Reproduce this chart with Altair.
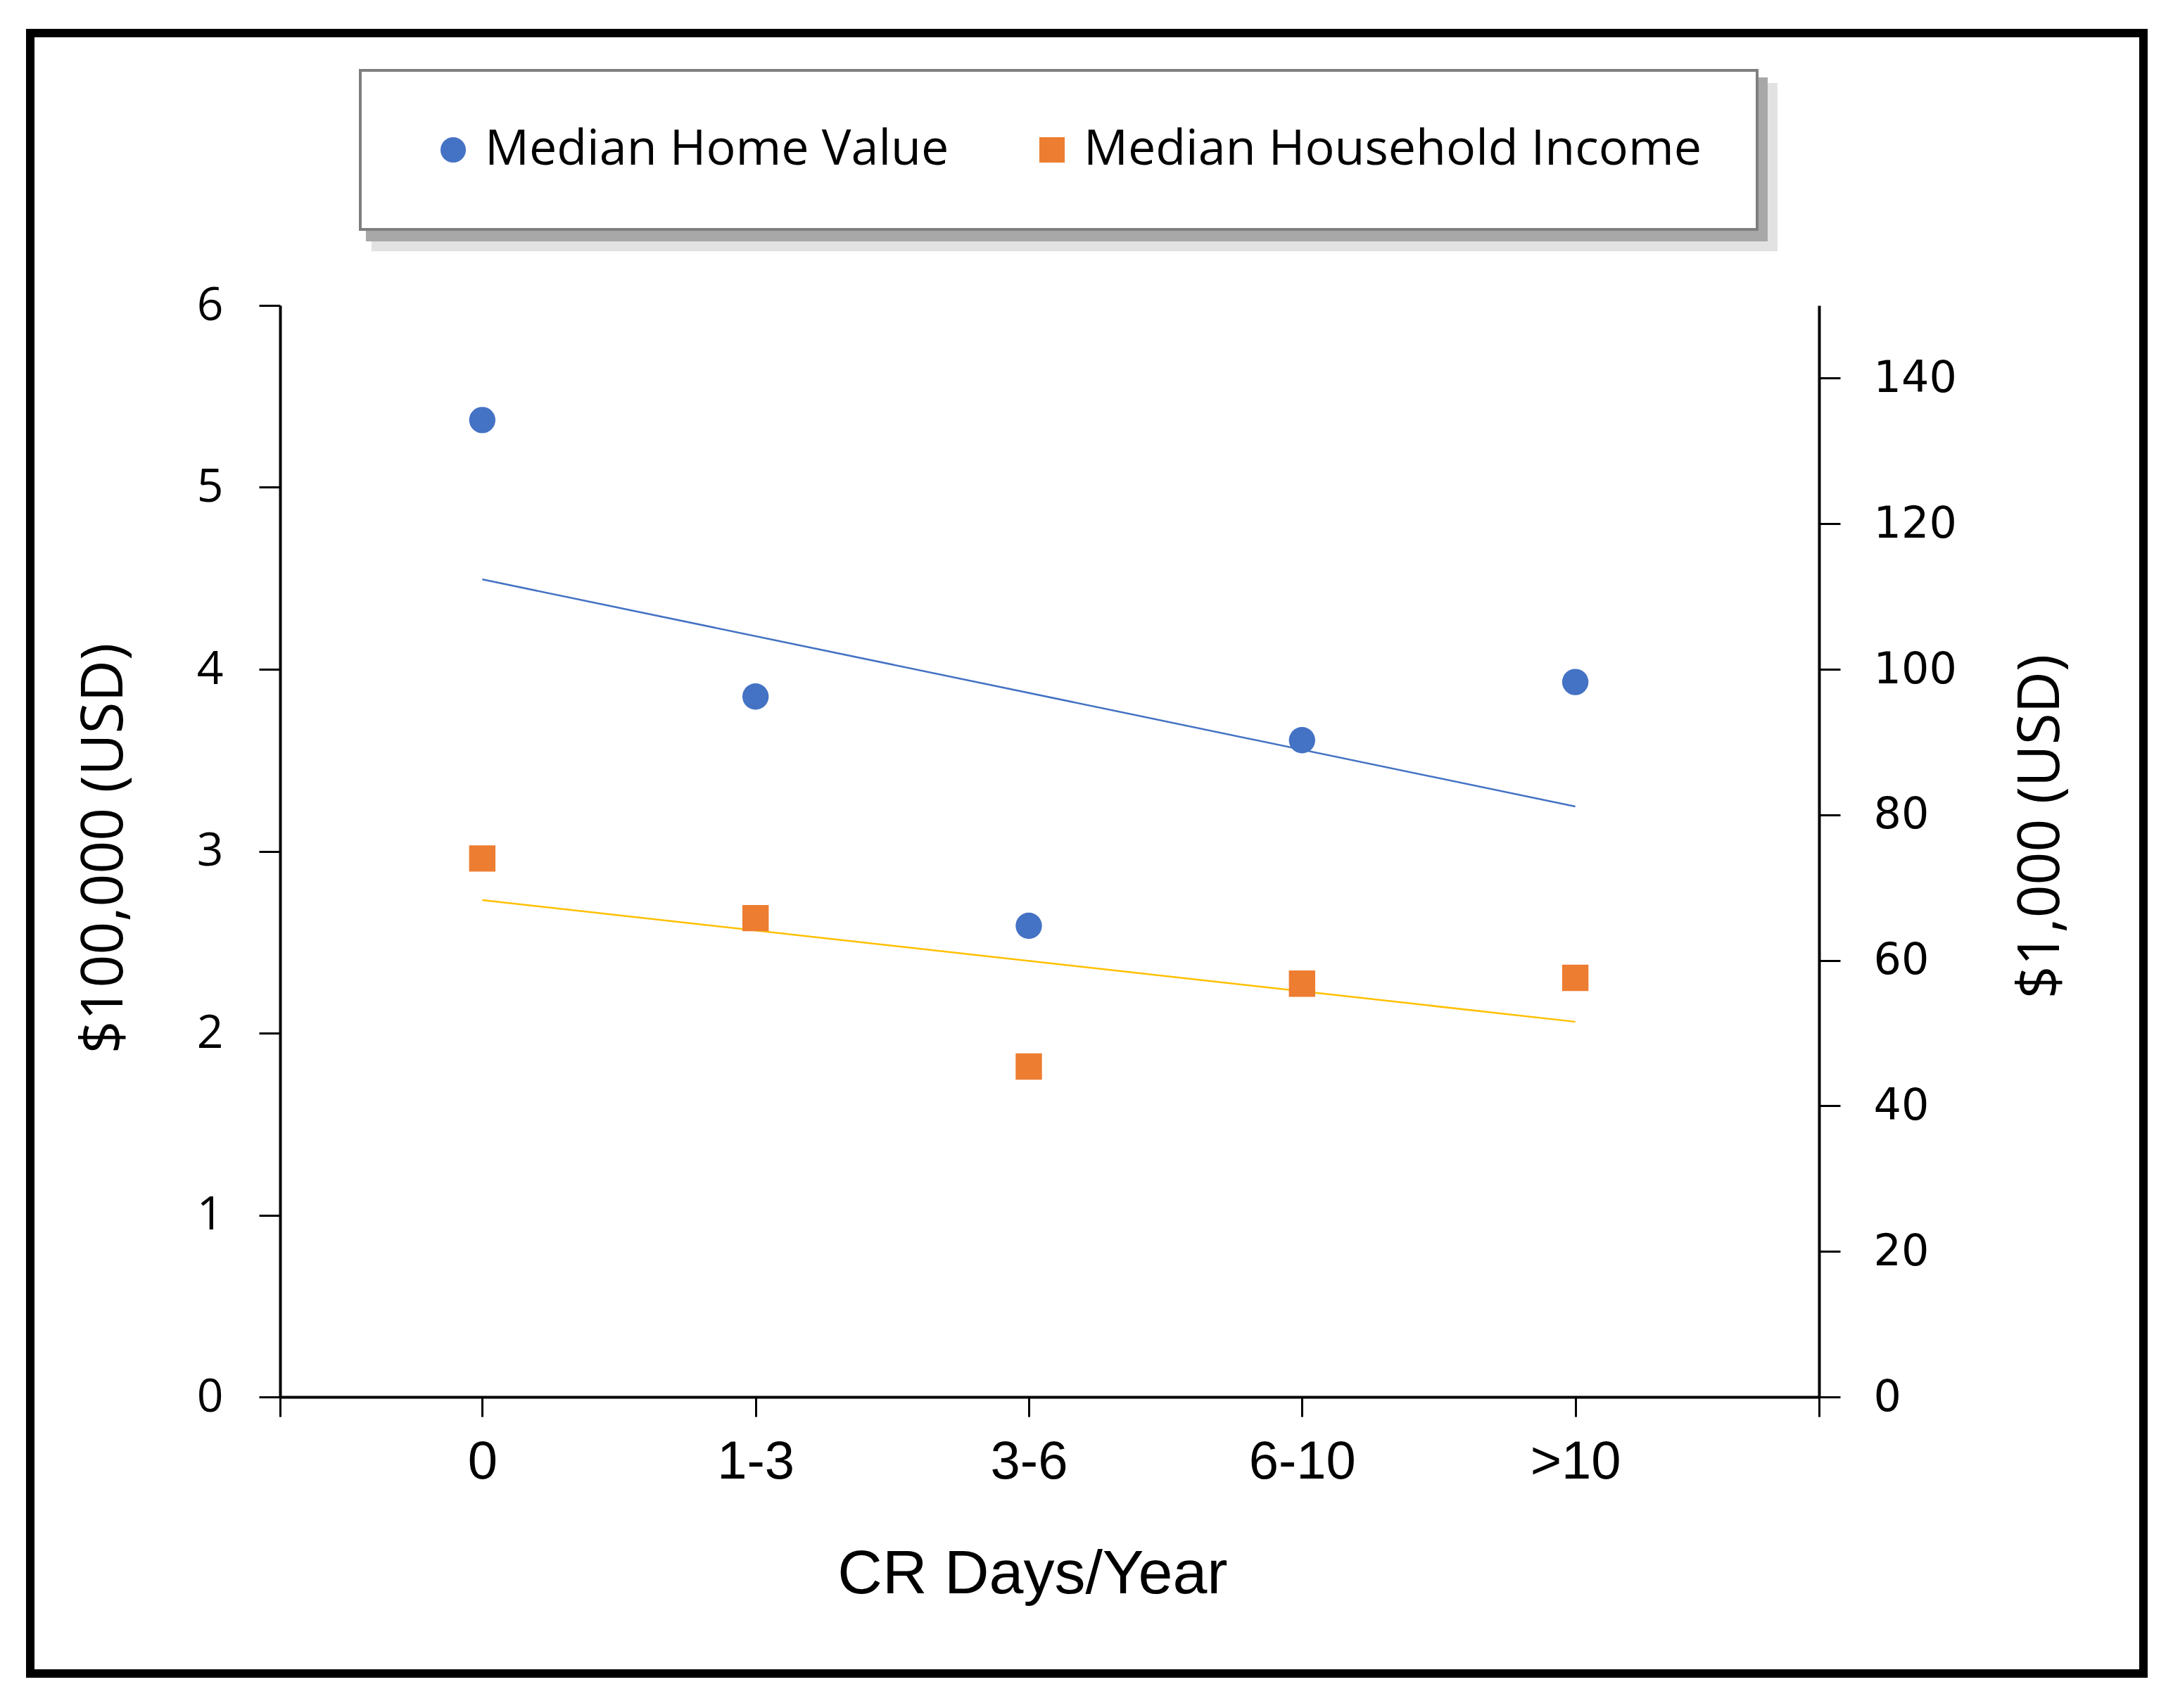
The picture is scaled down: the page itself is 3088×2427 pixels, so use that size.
import json
import altair as alt
import pandas as pd

# ---------------- data ----------------
categories = ["0", "1-3", "3-6", "6-10", ">10"]
positions = [0, 1, 2, 3, 4]
home_value = [5.37, 3.85, 2.59, 3.61, 3.93]          # x $100,000
household_income = [74.0, 65.8, 45.4, 56.8, 57.6]    # x $1,000
series_names = ["Median Home Value", "Median Household Income"]
series_colors = ["#4472C4", "#ED7D31"]
trend_colors = ["#4472C4", "#FFC000"]
left_ticks = [0, 1, 2, 3, 4, 5, 6]
right_ticks = [0, 20, 40, 60, 80, 100, 120, 140]
x_domain = [-0.74, 4.892]
x_tick_values = [-0.74, 0, 1, 2, 3, 4, 4.892]

df = pd.DataFrame({"idx": positions, "cat": categories,
                   "home": home_value, "income": household_income})
deco = pd.DataFrame({"k": [0]})

W, H = 2187, 1551
FONT = "Open Sans"
BLACK = "#000000"
LW = 4

label_expr = ("(datum.value % 1 == 0 && datum.value >= 0 && datum.value <= 4) ? "
              + json.dumps(categories) + "[datum.value] : ''")

x_enc = alt.X(
    "idx:Q",
    scale=alt.Scale(domain=x_domain, nice=False, zero=False),
    axis=alt.Axis(
        values=x_tick_values, labelExpr=label_expr, title="CR Days/Year",
        grid=False, domainColor=BLACK, domainWidth=LW, tickColor=BLACK,
        tickWidth=3, tickSize=28, labelFont="Liberation Sans", labelFontSize=76,
        labelColor=BLACK, labelPadding=64, labelBaseline="middle", labelFlush=False,
        labelOverlap=False,
        titleFont="Liberation Sans", titleFontSize=88, titleFontWeight="normal",
        titleColor=BLACK, titleX=1069, titleY=278, titleAlign="center",
        titleBaseline="alphabetic", titleAnchor="start",
    ),
)

left_axis = alt.Axis(
    orient="left", values=left_ticks, grid=False, domainColor=BLACK, domainWidth=LW,
    tickColor=BLACK, tickWidth=3, tickSize=30, labelFont=FONT, labelFontSize=66,
    labelColor=BLACK, labelPadding=51, title="$100,000 (USD)", titleFont=FONT,
    titleFontSize=82, titleFontWeight="normal", titleColor=BLACK, titleAngle=270,
    titleX=-250, titleY=771, titleAlign="center", titleBaseline="middle",
    titleAnchor="start",
)
right_axis = alt.Axis(
    orient="right", values=right_ticks, grid=False, domainColor=BLACK, domainWidth=LW,
    tickColor=BLACK, tickWidth=3, tickSize=30, labelFont="DejaVu Sans", labelFontSize=62,
    labelColor=BLACK, labelPadding=47, title="$1,000 (USD)", titleFont=FONT,
    titleFontSize=82, titleFontWeight="normal", titleColor=BLACK, titleAngle=270,
    titleX=315, titleY=740, titleAlign="center", titleBaseline="middle",
    titleAnchor="start",
)

y_left = alt.Y("home:Q", scale=alt.Scale(domain=[0, 6], nice=False, zero=True), axis=left_axis)
y_right = alt.Y("income:Q", scale=alt.Scale(domain=[0, 150], nice=False, zero=True), axis=right_axis)

color_scale = alt.Scale(domain=series_names, range=series_colors)
shape_scale = alt.Scale(domain=series_names, range=["circle", "square"])
legend = alt.Legend(
    title=None, orient="none", legendX=114, legendY=-334, direction="horizontal",
    fillColor="white", labelFont=FONT, labelFontSize=70, labelColor=BLACK,
    symbolSize=1300, labelOffset=10, symbolStrokeWidth=0, symbolOffset=19,
    labelLimit=3000,
)
color_enc = alt.Color("series:N", scale=color_scale, legend=legend)
shape_enc = alt.Shape("series:N", scale=shape_scale, legend=legend)

base = alt.Chart(df)

home_pts = base.mark_point(filled=True, size=1400, opacity=1).encode(
    x=x_enc, y=y_left, color=color_enc, shape=shape_enc,
).transform_calculate(series=json.dumps(series_names[0]))
home_trend = base.mark_line(color=trend_colors[0], strokeWidth=2.5).encode(
    x=x_enc, y=y_left
).transform_regression("idx", "home")

inc_pts = base.mark_point(filled=True, size=1400, opacity=1).encode(
    x=x_enc, y=y_right, color=color_enc, shape=shape_enc,
).transform_calculate(series=json.dumps(series_names[1]))
inc_trend = base.mark_line(color=trend_colors[1], strokeWidth=2.5).encode(
    x=x_enc, y=y_right
).transform_regression("idx", "income")

# decoration: outer frame and legend drop shadow
frame = alt.Chart(deco).mark_rect(fillOpacity=0, stroke=BLACK, strokeWidth=12).encode(
    x=alt.value(-355), x2=alt.value(2648), y=alt.value(-387), y2=alt.value(1944)
)
shadow_outer = alt.Chart(deco).mark_rect(color="#e2e2e2").encode(
    x=alt.value(114 + 16), x2=alt.value(2100 + 28), y=alt.value(-334 + 18), y2=alt.value(-107 + 30)
)
shadow_inner = alt.Chart(deco).mark_rect(color="#a8a8a8").encode(
    x=alt.value(114 + 8), x2=alt.value(2100 + 14), y=alt.value(-334 + 10), y2=alt.value(-107 + 16)
)

left_layer = alt.layer(home_trend, home_pts)
right_layer = alt.layer(inc_trend, inc_pts)

chart = alt.layer(
    frame, shadow_outer, shadow_inner, left_layer, right_layer
).resolve_scale(y="independent").properties(
    width=W, height=H,
    padding={"left": 390, "top": 426, "right": 495, "bottom": 434},
    autosize=alt.AutoSizeParams(type="none"),
    background="white",
).configure_view(strokeWidth=0).configure_legend(
    padding=78, strokeColor="#7f7f7f", strokeWidth=4, columnPadding=92, cornerRadius=0
)

chart.save("out.html", embed_options={"renderer": "svg", "actions": False})
